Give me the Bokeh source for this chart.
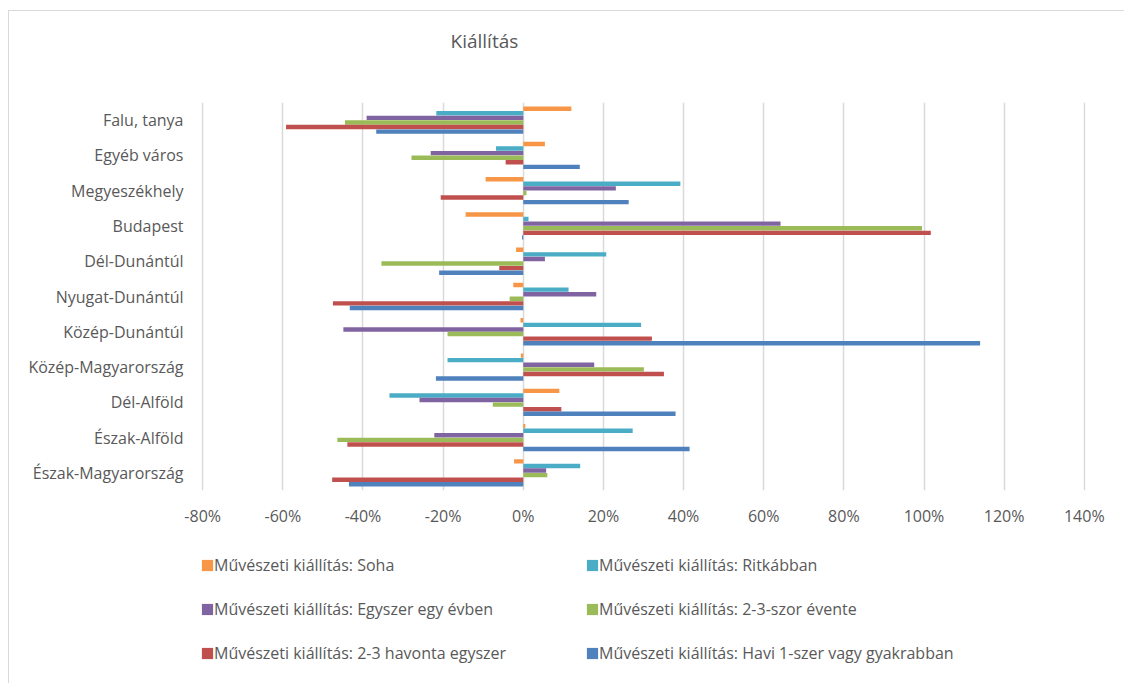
from bokeh.plotting import figure
from bokeh.layouts import column
from bokeh.models import (ColumnDataSource, FactorRange, Range1d, FixedTicker, NumeralTickFormatter,
                          Legend, LegendItem, Label)
from bokeh.transform import dodge
from bokeh.embed import file_html
from bokeh.resources import INLINE

title_text = "Kiállítás"
categories = ["Falu, tanya", "Egyéb város", "Megyeszékhely", "Budapest", "Dél-Dunántúl",
              "Nyugat-Dunántúl", "Közép-Dunántúl", "Közép-Magyarország", "Dél-Alföld",
              "Észak-Alföld", "Észak-Magyarország"]

soha        = [0.120, 0.054, -0.094, -0.144, -0.018, -0.025, -0.007, -0.006, 0.090, 0.005, -0.023]
ritkabban   = [-0.217, -0.068, 0.392, 0.013, 0.207, 0.113, 0.294, -0.189, -0.334, 0.273, 0.142]
egyszer     = [-0.391, -0.231, 0.231, 0.642, 0.054, 0.182, -0.449, 0.177, -0.259, -0.222, 0.057]
evente      = [-0.445, -0.279, 0.008, 0.995, -0.354, -0.034, -0.189, 0.301, -0.076, -0.464, 0.060]
havonta     = [-0.592, -0.044, -0.206, 1.017, -0.060, -0.475, 0.321, 0.351, 0.095, -0.439, -0.477]
havi        = [-0.367, 0.141, 0.263, -0.003, -0.210, -0.433, 1.140, -0.218, 0.380, 0.415, -0.435]

series_names = ["Művészeti kiállítás: Soha",
                "Művészeti kiállítás: Ritkábban",
                "Művészeti kiállítás: Egyszer egy évben",
                "Művészeti kiállítás: 2-3-szor évente",
                "Művészeti kiállítás: 2-3 havonta egyszer",
                "Művészeti kiállítás: Havi 1-szer vagy gyakrabban"]
series_values = [soha, ritkabban, egyszer, evente, havonta, havi]
colors = ["#F79646", "#4BACC6", "#8064A2", "#9BBB59", "#C0504D", "#4F81BD"]
x_ticks = [-0.8, -0.6, -0.4, -0.2, 0.0, 0.2, 0.4, 0.6, 0.8, 1.0, 1.2, 1.4]

FONT = "Open Sans"
TXT = "#595959"
W = 1115
BL, BR = 192, 39

# ---- title strip
pt = figure(width=W, height=91, output_backend="svg", toolbar_location=None, title=None,
            x_axis_type=None, y_axis_type=None, x_range=Range1d(0, 1), y_range=Range1d(0, 1),
            min_border_left=BL, min_border_right=BR, min_border_top=0, min_border_bottom=0)
pt.outline_line_color = None
pt.grid.visible = False
pt.add_layout(Label(x=0.32, y=0.68, text=title_text, text_align="center", text_baseline="middle",
                    text_font=FONT, text_font_size="19px", text_color=TXT))

# ---- main chart
data = {"cat": categories}
for i, v in enumerate(series_values):
    data[f"s{i}"] = v
source = ColumnDataSource(data)

p = figure(width=W, height=433, output_backend="svg", toolbar_location=None, title=None,
           y_range=FactorRange(factors=list(reversed(categories))),
           x_range=Range1d(-0.803, 1.403),
           min_border_left=BL, min_border_right=BR, min_border_top=0, min_border_bottom=45)

offsets = [0.325, 0.195, 0.065, -0.065, -0.195, -0.325]
for i in range(6):
    p.hbar(y=dodge("cat", offsets[i], range=p.y_range), left=0, right=f"s{i}",
           height=0.125, source=source, fill_color=colors[i], line_color=None)

p.outline_line_color = None
p.ygrid.grid_line_color = None
p.xgrid.grid_line_color = "#d9d9d9"
p.xgrid.grid_line_width = 1.5
p.xaxis.ticker = FixedTicker(ticks=x_ticks)
p.xaxis.formatter = NumeralTickFormatter(format="0%")
for ax in (p.xaxis[0], p.yaxis[0]):
    ax.axis_line_color = None
    ax.major_tick_line_color = None
    ax.minor_tick_line_color = None
    ax.major_label_text_font = FONT
    ax.major_label_text_color = TXT
    ax.major_label_text_font_size = "16px"
p.yaxis.major_label_standoff = 12
p.xaxis.major_label_standoff = 8

# ---- legend strip
p2 = figure(width=W, height=148, output_backend="svg", toolbar_location=None, title=None,
            x_axis_type=None, y_axis_type=None, x_range=Range1d(0, 1), y_range=Range1d(0, 1),
            min_border_left=BL, min_border_right=BR, min_border_top=0, min_border_bottom=0)
p2.outline_line_color = None
p2.grid.visible = False
nan = float("nan")
dummy = ColumnDataSource(dict(y=[nan], right=[nan]))
leg_renderers = [p2.hbar(y="y", left=0, right="right", height=0.1, source=dummy,
                         fill_color=colors[i], line_color=None) for i in range(6)]
items = [LegendItem(label=series_names[i], renderers=[leg_renderers[i]]) for i in range(6)]
legend = Legend(items=items, location=(-1, 19), orientation="horizontal", ncols=2,
                padding=0, margin=0, spacing=22, glyph_width=14, glyph_height=14,
                label_height=20, label_width=349, label_standoff=0,
                label_text_font=FONT, label_text_font_size="16px", label_text_color=TXT,
                border_line_color=None, background_fill_alpha=0)
p2.add_layout(legend, "center")

layout = column(pt, p, p2, spacing=0,
                styles={"margin-left": "8px", "margin-top": "10px",
                        "border-left": "1px solid #d9d9d9", "border-top": "1px solid #d9d9d9"})

open("out.html", "w").write(file_html(layout, INLINE))
